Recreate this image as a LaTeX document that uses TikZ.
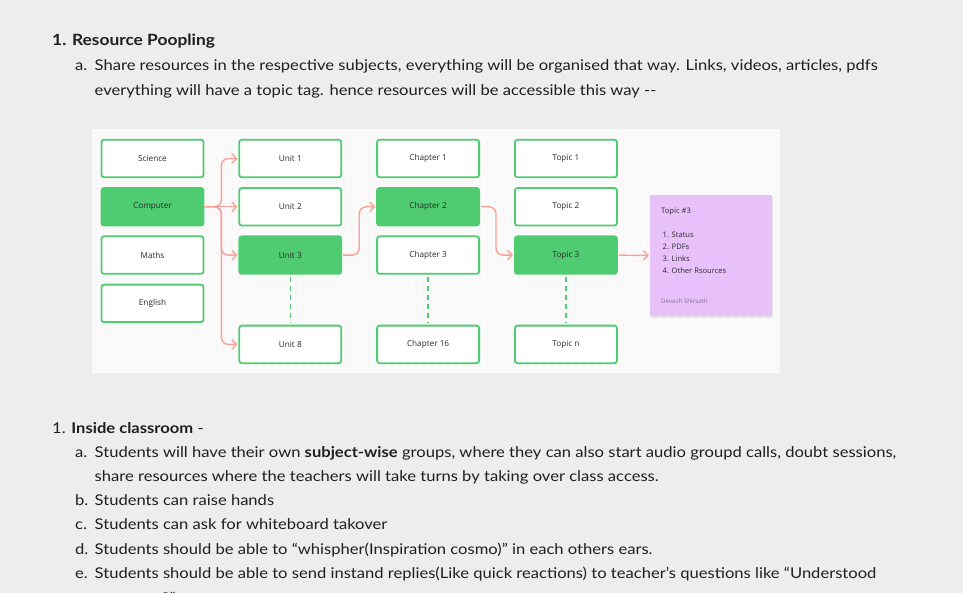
\documentclass[tikz,border=0pt]{standalone}
\usepackage{fontspec}
\setmainfont{Lato}[FakeStretch=1.12]
\newfontfamily\figfont{Open Sans}
\usetikzlibrary{arrows.meta, positioning}
\definecolor{pagebg}{HTML}{EDEDED}
\definecolor{boardbg}{HTML}{FAFAFA}
\definecolor{dotgray}{HTML}{DADADA}
\definecolor{boxgreen}{HTML}{4FCB71}
\definecolor{linkred}{HTML}{F7A197}
\definecolor{notepurple}{HTML}{E8C1FB}
\definecolor{inktext}{HTML}{1F1F1F}
\definecolor{boxtext}{HTML}{2B2B2B}
\definecolor{signgray}{HTML}{8B6F99}

\begin{document}
\begin{tikzpicture}[x=1pt, y=-1pt,
  box/.style={draw=boxgreen, line width=1.8pt, fill=white, rounded corners=2.5pt,
    minimum width=102pt, minimum height=37.5pt, inner sep=0pt,
    font=\figfont\fontsize{8.2}{9}\selectfont, text=boxtext},
  pick/.style={box, fill=boxgreen},
  link/.style={draw=linkred, line width=1.4pt, rounded corners=7pt,
    -{Straight Barb[length=4.5pt,width=9.5pt]}},
  gap/.style={draw=boxgreen, line width=1.6pt, dash pattern=on 5pt off 4pt},
  para/.style={anchor=base west, inner sep=0pt, text=inktext,
    font=\fontsize{14.8}{18}\selectfont},
  head/.style={para, font=\fontsize{15.5}{18}\selectfont\bfseries},
  notetext/.style={anchor=base west, inner sep=0pt, text=boxtext,
    font=\figfont\fontsize{7.6}{9}\selectfont}
]
\useasboundingbox (0,0) rectangle (963,593);
\fill[pagebg] (0,0) rectangle (963,593);

% first section
\node[head] (rp) at (52,45.5) {1. Resource Poopling};
\node[para] (rpa) at (75,70.5) {a.};
\node[para] (rpa1) at (94.5,70.5) {Share resources in the respective subjects, everything will be organised that way. Links, videos, articles, pdfs};
\node[para] (rpa2) at (94.5,95.5) {everything will have a topic tag. hence resources will be accessible this way -{}-};

% board
\fill[boardbg] (92,129) rectangle (780,373);
\foreach \x in {96,104,...,776}
  \foreach \y in {133,141,...,369}
    \fill[dotgray] (\x,\y) circle (0.6pt);

% subjects
\node[box] (sci) at (152.5,158.5) {Science};
\node[pick, below=9pt of sci] (comp) {Computer};
\node[box, below=9pt of comp] (maths) {Maths};
\node[box, below=9pt of maths] (eng) {English};
% units
\node[box, right=34pt of sci] (u1) {Unit 1};
\node[box, right=34pt of comp] (u2) {Unit 2};
\node[pick, right=34pt of maths] (u3) {Unit 3};
\node[box, below=50pt of u3] (u8) {Unit 8};
% chapters
\node[box, right=34pt of u1] (ch1) {Chapter 1};
\node[pick, right=34pt of u2] (ch2) {Chapter 2};
\node[box, right=34pt of u3] (ch3) {Chapter 3};
\node[box, right=34pt of u8] (ch16) {Chapter 16};
% topics
\node[box, right=34pt of ch1] (t1) {Topic 1};
\node[box, right=34pt of ch2] (t2) {Topic 2};
\node[pick, right=34pt of ch3] (t3) {Topic 3};
\node[box, right=34pt of ch16] (tn) {Topic n};

% sticky note
\fill[black, opacity=0.08] (651,197) rectangle (773,318);
\node[fill=notepurple, minimum width=122pt, minimum height=121pt, inner sep=0pt] (note) at (711,255.5) {};
\node[notetext] (nt) at (661,213.5) {Topic \#3};
\node[notetext] (n1) at (662.5,237.5) {1. Status};
\node[notetext] (n2) at (662.5,249.5) {2. PDFs};
\node[notetext] (n3) at (662.5,261.5) {3. Links};
\node[notetext] (n4) at (662.5,273.5) {4. Other Rsources};
\node[notetext, text=signgray, font=\figfont\fontsize{6.2}{7}\selectfont] (ns) at (661,303.5) {Devesh Shirsath};

% links
\draw[link] (comp.east) -- ++(17,0) |- ([xshift=-1pt]u1.west);
\draw[link] (comp.east) -- ([xshift=-1pt]u2.west);
\draw[link] (comp.east) -- ++(17,0) |- ([xshift=-1pt]u3.west);
\draw[link] (comp.east) -- ++(17,0) |- ([xshift=-1pt]u8.west);
\draw[link] ([xshift=1pt]u3.east) -- ++(16,0) |- ([xshift=-1pt]ch2.west);
\draw[link] ([xshift=1pt]ch2.east) -- ++(15,0) |- ([xshift=-1pt]t3.west);
\draw[link] ([xshift=1pt]t3.east) -- ([xshift=-1pt]note.west);
\draw[gap] ([yshift=-2pt]u3.south) -- ([yshift=2pt]u8.north);
\draw[gap] ([yshift=-2pt]ch3.south) -- ([yshift=2pt]ch16.north);
\draw[gap] ([yshift=-2pt]t3.south) -- ([yshift=2pt]tn.north);

% second section
\node[para] (ic) at (52,433.5) {1. \textbf{Inside classroom} -};
\node[para] (ica) at (75,457.5) {a.};
\node[para] (ica1) at (94.5,457.5) {Students will have their own \textbf{subject-wise} groups, where they can also start audio groupd calls, doubt sessions,};
\node[para] (ica2) at (94.5,481.5) {share resources where the teachers will take turns by taking over class access.};
\node[para] (icb) at (75,505.5) {b.};
\node[para] (icb1) at (94.5,505.5) {Students can raise hands};
\node[para] (icc) at (75,529.5) {c.};
\node[para] (icc1) at (94.5,529.5) {Students can ask for whiteboard takover};
\node[para] (icd) at (75,554) {d.};
\node[para] (icd1) at (94.5,554) {Students should be able to “whispher(Inspiration cosmo)” in each others ears.};
\node[para] (ice) at (75,578.5) {e.};
\node[para] (ice1) at (94.5,578.5) {Students should be able to send instand replies(Like quick reactions) to teacher’s questions like “Understood};
\node[para] (ice2) at (162,603) {?”};
\end{tikzpicture}
\end{document}
